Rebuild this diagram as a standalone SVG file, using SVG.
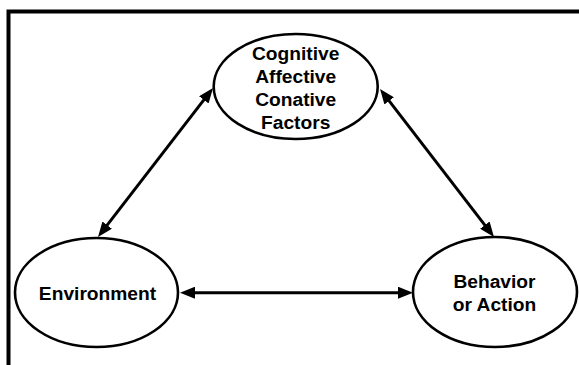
<svg xmlns="http://www.w3.org/2000/svg" width="579" height="365" viewBox="0 0 579 365">
  <style>
    .frame { fill: none; stroke: #000; stroke-width: 4; stroke-linejoin: miter; }
    .node ellipse { fill: #fff; stroke: #000; stroke-width: 2.6; }
    .node text { font-family: "Liberation Sans", Arial, sans-serif; font-weight: bold; font-size: 19.2px; fill: #000; text-anchor: middle; }
    .link { stroke: #000; stroke-width: 3; fill: none; marker-start: url(#head); marker-end: url(#head); }
  </style>
  <defs>
    <marker id="head" viewBox="0 0 15 12" refX="7" refY="6" markerWidth="15" markerHeight="12" markerUnits="userSpaceOnUse" orient="auto-start-reverse">
      <path d="M0,0 L15,6 L0,12 Z" fill="#000"/>
    </marker>
  </defs>

  <rect width="579" height="365" fill="#fff"/>

  <!-- open frame: top and left edges only -->
  <path class="frame" d="M8.5,365 V11.5 H579"/>

  <!-- two-way connectors -->
  <g id="connectors">
    <line class="link" x1="102.9" y1="230.7" x2="208.1" y2="94.3"/>
    <line class="link" x1="384.9" y1="95.3" x2="489.1" y2="230.7"/>
    <line class="link" x1="188" y1="292.7" x2="405" y2="292.7"/>
  </g>

  <g id="factors" class="node">
    <ellipse cx="295.7" cy="86.5" rx="82" ry="52.5"/>
    <text x="295.7" y="59.5">Cognitive</text>
    <text x="295.7" y="82.8">Affective</text>
    <text x="295.7" y="106">Conative</text>
    <text x="295.7" y="129.3">Factors</text>
  </g>

  <g id="environment" class="node">
    <ellipse cx="96.5" cy="292.5" rx="81.5" ry="54.5"/>
    <text x="97.5" y="300">Environment</text>
  </g>

  <g id="behavior" class="node">
    <ellipse cx="495" cy="292" rx="82" ry="55"/>
    <text x="494.5" y="288.3">Behavior</text>
    <text x="494.5" y="310.7">or Action</text>
  </g>
</svg>
